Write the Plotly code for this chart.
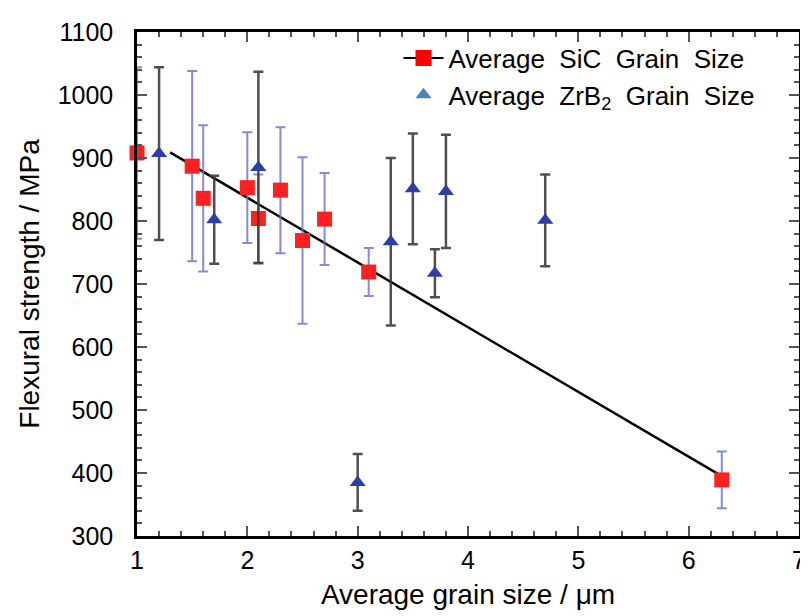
import plotly.graph_objects as go

# SiC grain size data (red squares)
sic_x = [1.0, 1.5, 1.6, 2.0, 2.1, 2.3, 2.5, 2.7, 3.1, 6.3]
sic_y = [908, 887, 836, 853, 804, 849, 769, 803, 719, 389]
sic_err = [136, 151, 116, 88, 70, 100, 132, 73, 38, 45]

# ZrB2 grain size data (blue triangles)
zrb_x = [1.2, 1.7, 2.1, 3.0, 3.3, 3.5, 3.7, 3.8, 4.7]
zrb_y = [907, 802, 885, 385, 767, 851, 717, 847, 801]
zrb_err = [137, 70, 152, 45, 133, 88, 38, 90, 73]

# linear trend line
fit_x = [1.3, 6.3]
fit_y = [909, 395]

x_ticks = [1, 2, 3, 4, 5, 6, 7]
y_ticks = [300, 400, 500, 600, 700, 800, 900, 1000, 1100]

FONT = "Liberation Sans, Arial, sans-serif"

fig = go.Figure()

fig.add_trace(go.Scatter(
    x=fit_x, y=fit_y, mode="lines",
    line=dict(color="black", width=2.5),
    showlegend=False, hoverinfo="skip"))

fig.add_trace(go.Scatter(
    x=sic_x, y=sic_y, mode="markers",
    marker=dict(symbol="square", size=15, color="#FF2121"),
    error_y=dict(type="data", array=sic_err, visible=True,
                 color="rgba(110,120,205,0.85)", thickness=2, width=5),
    cliponaxis=False, showlegend=False))

fig.add_trace(go.Scatter(
    x=zrb_x, y=zrb_y, mode="markers",
    marker=dict(symbol="triangle-up", size=14, color="#2D3FA6"),
    error_y=dict(type="data", array=zrb_err, visible=True,
                 color="rgba(60,60,60,0.9)", thickness=2.5, width=5),
    cliponaxis=False, showlegend=False))

# legend entries
fig.add_trace(go.Scatter(
    x=[None], y=[None], mode="lines+markers",
    name="Average&nbsp; SiC&nbsp; Grain&nbsp; Size",
    line=dict(color="black", width=2),
    marker=dict(symbol="square", size=16, color="#FF0000")))
fig.add_trace(go.Scatter(
    x=[None], y=[None], mode="markers",
    name="Average&nbsp; ZrB<sub>2</sub>&nbsp; Grain&nbsp; Size",
    marker=dict(symbol="triangle-up", size=14, color="#4F81BD")))

axis_common = dict(
    showline=True, linecolor="black", linewidth=2.5, mirror="ticks",
    ticks="inside", ticklen=10, tickwidth=2, tickcolor="#555555",
    showgrid=False, zeroline=False,
    tickfont=dict(family=FONT, size=25, color="black"),
)

fig.update_xaxes(
    range=[1, 7], tickvals=x_ticks, ticktext=[str(v) for v in x_ticks],
    minor=dict(dtick=0.2, ticks="inside", ticklen=5, tickwidth=1.5, tickcolor="#555555"),
    title=dict(text="Average grain size / μm", font=dict(family=FONT, size=28, color="black"), standoff=12),
    ticklabelstandoff=0,
    **axis_common)

fig.update_yaxes(
    range=[300, 1100], tickvals=y_ticks, ticktext=[str(v) for v in y_ticks],
    minor=dict(dtick=20, ticks="inside", ticklen=5, tickwidth=1.5, tickcolor="#555555"),
    title=dict(text="Flexural strength / MPa", font=dict(family=FONT, size=28, color="black"), standoff=10),
    ticklabelstandoff=16,
    **axis_common)

fig.update_layout(
    width=808, height=616,
    margin=dict(l=129, r=10, t=16, b=88),
    paper_bgcolor="white", plot_bgcolor="white",
    font=dict(family=FONT, color="black"),
    legend=dict(x=0.395, y=0.995, xanchor="left", yanchor="top",
                bgcolor="rgba(0,0,0,0)", borderwidth=0,
                font=dict(family=FONT, size=26, color="black"),
                itemwidth=40, tracegroupgap=0),
)

fig.write_html("out.html")
